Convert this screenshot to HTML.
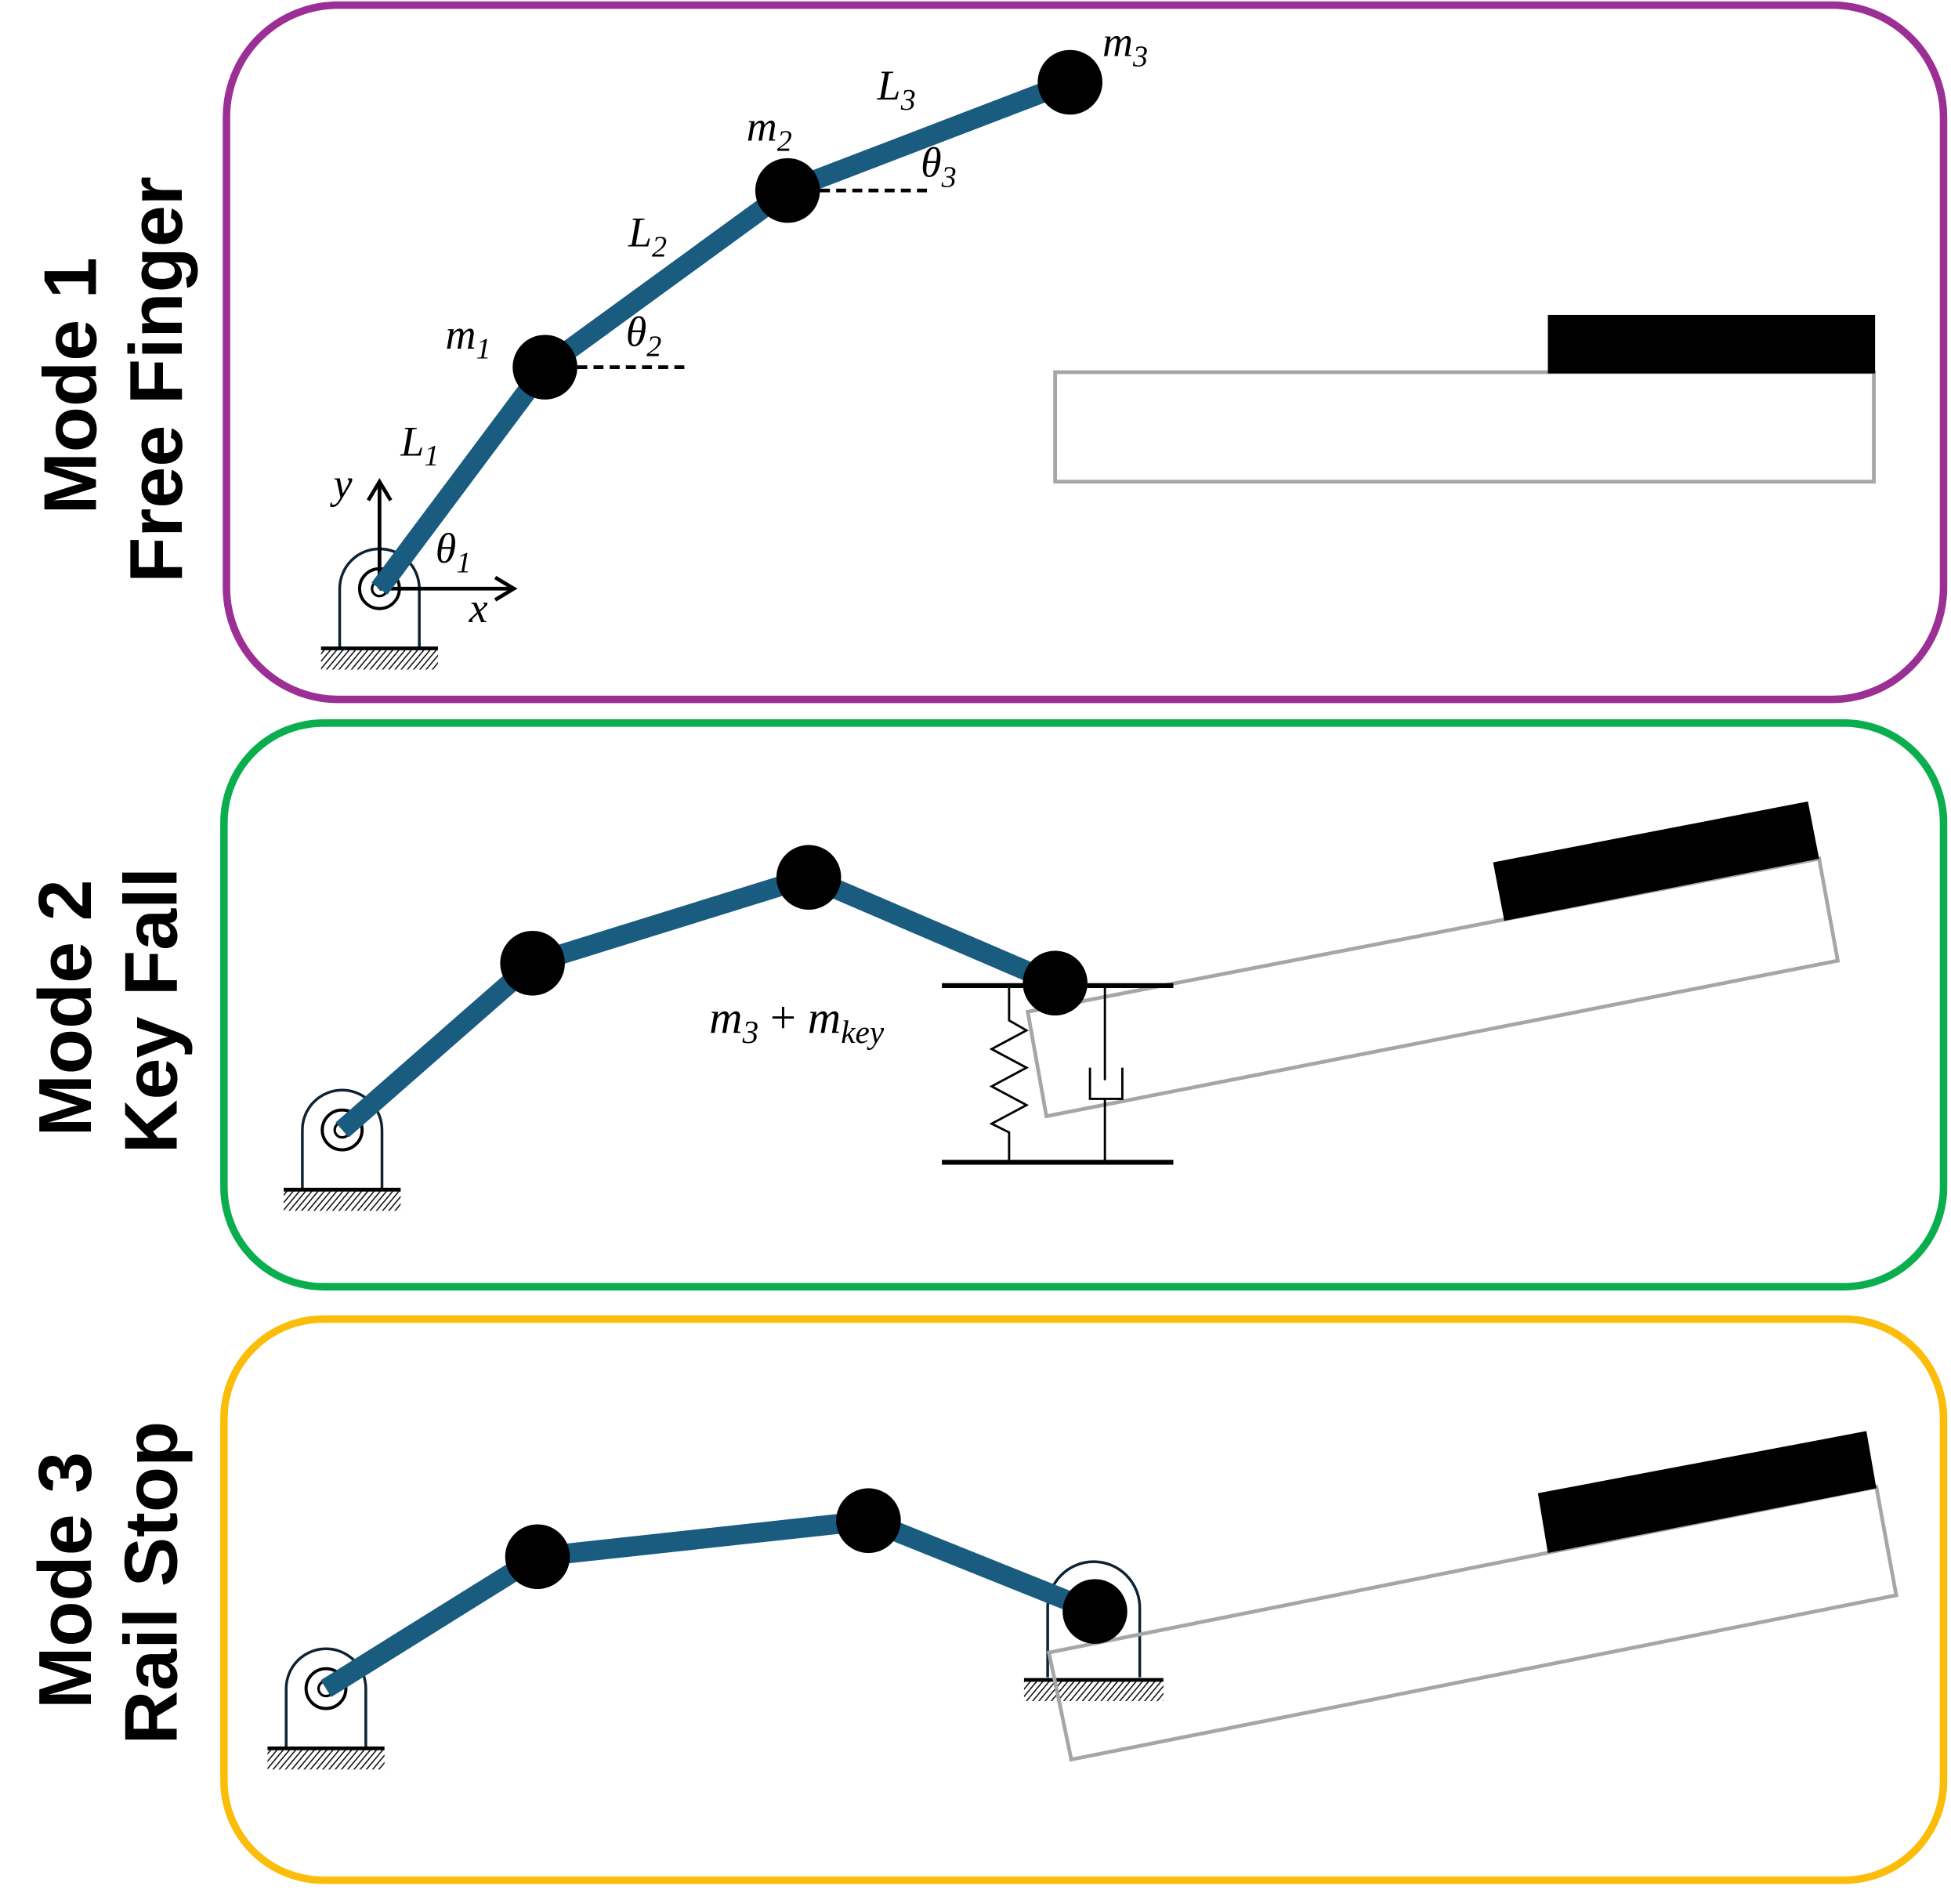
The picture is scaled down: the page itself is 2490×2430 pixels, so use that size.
<!DOCTYPE html>
<html><head><meta charset="utf-8"><style>
html,body{margin:0;padding:0;background:#fff}
svg{display:block}
.lbl{font-family:"Liberation Sans",sans-serif;font-weight:bold;font-size:60px;fill:#000}
.m{font-family:"Liberation Serif",serif;font-style:italic;font-size:34px;fill:#000}
.s{font-size:24px}
</style></head><body>
<svg width="2490" height="2430" viewBox="0 0 1568 1530" xmlns="http://www.w3.org/2000/svg">
<defs>
<pattern id="hatch" width="5" height="16" patternUnits="userSpaceOnUse" patternTransform="skewX(-40)">
<line x1="2" y1="0" x2="2" y2="16" stroke="#000" stroke-width="1.2"/>
</pattern>
<g id="pivot">
<path d="M-32,47 V0 A32,32 0 0 1 32,0 V47" fill="#fff" stroke="#0d2233" stroke-width="2.2"/>
<rect x="-47" y="49" width="94" height="16" fill="url(#hatch)"/>
<line x1="-47" y1="48" x2="47" y2="48" stroke="#000" stroke-width="3"/>
<circle r="16" fill="#fff" stroke="#000" stroke-width="2.5"/>
<circle r="6" fill="none" stroke="#000" stroke-width="2"/>
</g>
</defs>

<rect x="182" y="4" width="1380" height="558" rx="90" fill="none" stroke="#9b2f94" stroke-width="6"/>
<rect x="180" y="581" width="1382" height="453" rx="80" fill="none" stroke="#0aae4f" stroke-width="6"/>
<rect x="180" y="1060" width="1382" height="451" rx="80" fill="none" stroke="#fbbd0a" stroke-width="6"/>

<g>
<text class="lbl" transform="translate(77,310) rotate(-90)" text-anchor="middle">Mode 1</text>
<text class="lbl" transform="translate(146,305) rotate(-90)" text-anchor="middle">Free Finger</text>
</g>
<g>
<text class="lbl" transform="translate(73,810) rotate(-90)" text-anchor="middle">Mode 2</text>
<text class="lbl" transform="translate(142,812) rotate(-90)" text-anchor="middle">Key Fall</text>
</g>
<g>
<text class="lbl" transform="translate(73,1270) rotate(-90)" text-anchor="middle">Mode 3</text>
<text class="lbl" transform="translate(142,1272) rotate(-90)" text-anchor="middle">Rail Stop</text>
</g>

<!-- Panel 1 -->
<g>
<rect x="848" y="299" width="658" height="88" fill="#fff" stroke="#a6a6a6" stroke-width="3"/>
<rect x="1244" y="253" width="263" height="47" fill="#000"/>
</g>
<use href="#pivot" x="305" y="473"/>
<g stroke="#000" stroke-width="3" fill="none">
<line x1="305" y1="473" x2="305" y2="390"/><path d="M296,402 L305,387 L314,402"/>
<line x1="305" y1="473" x2="410" y2="473"/><path d="M398,464 L413,473 L398,482"/>
</g>
<g stroke="#000" stroke-width="3" stroke-dasharray="8,5">
<line x1="438" y1="295" x2="550" y2="295"/>
<line x1="633" y1="153" x2="748" y2="153"/>
</g>
<polyline points="305,473 438,295 633,153 860,66" fill="none" stroke="#1a5c80" stroke-width="16"/>
<g fill="#000">
<circle cx="438" cy="295" r="26"/><circle cx="633" cy="153" r="26"/><circle cx="860" cy="66" r="26"/>
</g>
<g>
<text class="m" x="358" y="280">m<tspan class="s" dy="8">1</tspan></text>
<text class="m" x="600" y="113">m<tspan class="s" dy="8">2</tspan></text>
<text class="m" x="886" y="45">m<tspan class="s" dy="8">3</tspan></text>
<text class="m" x="322" y="366">L<tspan class="s" dy="8">1</tspan></text>
<text class="m" x="505" y="198">L<tspan class="s" dy="8">2</tspan></text>
<text class="m" x="705" y="80">L<tspan class="s" dy="8">3</tspan></text>
<text class="m" x="350" y="452">θ<tspan class="s" dy="8">1</tspan></text>
<text class="m" x="503" y="278">θ<tspan class="s" dy="8">2</tspan></text>
<text class="m" x="740" y="142">θ<tspan class="s" dy="8">3</tspan></text>
<text class="m" x="268" y="400">y</text>
<text class="m" x="377" y="500">x</text>
</g>

<!-- Panel 2 -->
<g>
<polygon points="826,813 1462,690 1477,772 841,897" fill="#fff" stroke="#a6a6a6" stroke-width="3"/>
<polygon points="1200,693 1453,644 1462,690 1209,740" fill="#000"/>
</g>
<g stroke="#000" fill="none">
<line x1="757" y1="792" x2="943" y2="792" stroke-width="4"/>
<line x1="757" y1="934" x2="943" y2="934" stroke-width="4"/>
<polyline stroke-width="1.8" points="811,792 811,820 825,828 797,843 825,858 797,873 825,888 797,903 811,910 811,934"/>
<line x1="888" y1="792" x2="888" y2="868" stroke-width="1.8"/>
<path d="M876,858 V883 H902 V858" stroke-width="1.8"/>
<line x1="888" y1="883" x2="888" y2="934" stroke-width="1.8"/>
</g>
<use href="#pivot" x="275" y="908"/>
<polyline points="275,908 428,774 650,705 848,790" fill="none" stroke="#1a5c80" stroke-width="16"/>
<g fill="#000">
<circle cx="428" cy="774" r="26"/><circle cx="650" cy="705" r="26"/><circle cx="848" cy="790" r="26"/>
</g>
<text class="m" x="570" y="830" style="font-size:37px">m<tspan class="s" dy="8" style="font-size:26px">3</tspan><tspan dy="-8" style="font-style:normal"> + </tspan><tspan>m</tspan><tspan class="s" dy="8" style="font-size:26px">key</tspan></text>

<!-- Panel 3 -->
<use href="#pivot" x="262" y="1357"/>
<g>
<path d="M842,1348 V1292 A37,37 0 0 1 916,1292 V1348" fill="#fff" stroke="#0d2233" stroke-width="2.2"/>
<rect x="823" y="1351" width="112" height="16" fill="url(#hatch)"/>
<line x1="823" y1="1350" x2="935" y2="1350" stroke="#000" stroke-width="3"/>
</g>
<g>
<polygon points="843,1328 1508,1195 1524,1282 861,1414" fill="none" stroke="#a6a6a6" stroke-width="3"/>
<polygon points="1236,1200 1500,1150 1508,1196 1244,1248" fill="#000"/>
</g>
<polyline points="262,1357 432,1251 698,1222 880,1295" fill="none" stroke="#1a5c80" stroke-width="16"/>
<g fill="#000">
<circle cx="432" cy="1251" r="26"/><circle cx="698" cy="1222" r="26"/><circle cx="880" cy="1295" r="26"/>
</g>
</svg>
</body></html>
